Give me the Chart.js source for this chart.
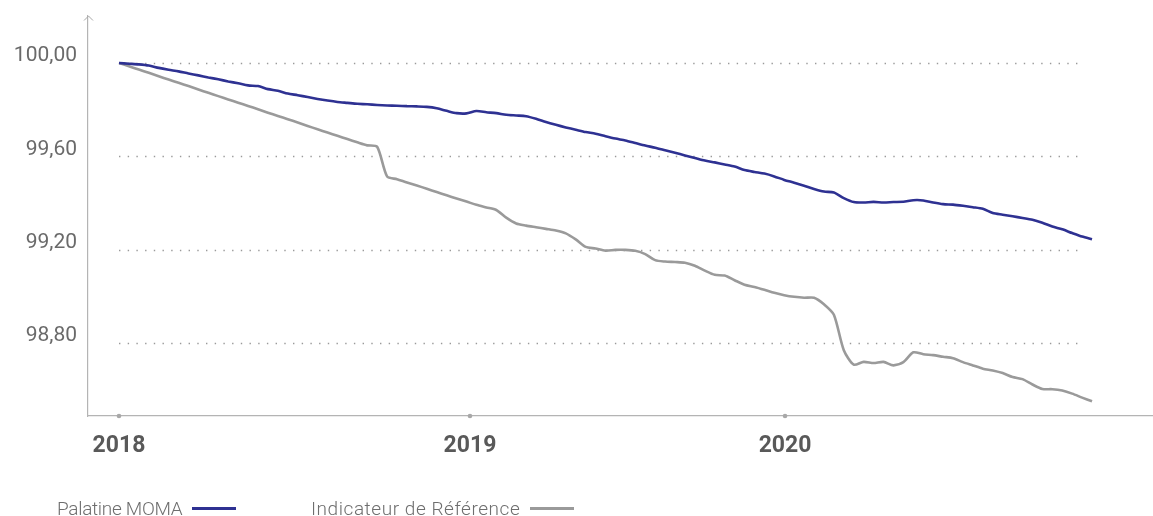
<!DOCTYPE html>
<html>
<head>
<meta charset="utf-8">
<script src="https://cdn.jsdelivr.net/npm/chart.js@4.4.1/dist/chart.umd.min.js"></script>
<style>
    html, body { margin: 0; padding: 0; background: #fff; }
    #wrap { position: relative; width: 1153px; height: 516px; }
    .legend-item {
        position: absolute;
        top: 497px;
        height: 22px;
        display: flex;
        align-items: center;
        font-family: Roboto, sans-serif;
        font-weight: 300;
        font-size: 19px;
        color: #6e6e6e;
        white-space: nowrap;
    }
    .legend-item .swatch { display: inline-block; width: 44px; height: 3px; margin-left: 10px; }
</style>
</head>
<body>
<div id="wrap">
    <canvas id="perfChart" width="1153" height="516"></canvas>
    <div class="legend-item" style="left:57px"><span style="letter-spacing:-0.3px">Palatine MOMA</span><span class="swatch" style="background:#2e3192"></span></div>
    <div class="legend-item" style="left:311px"><span style="letter-spacing:0.55px">Indicateur de Référence</span><span class="swatch" style="background:#9a9a9a"></span></div>
</div>
<script>
// valeurs, un point environ toutes les 2 semaines
const palatineMoma = [
    100.000, 99.997, 99.994, 99.989, 99.979, 99.971, 99.964, 99.955, 99.947, 99.938,
    99.930, 99.921, 99.913, 99.904, 99.901, 99.888, 99.881, 99.869, 99.862, 99.854,
    99.846, 99.839, 99.833, 99.829, 99.825, 99.823, 99.820, 99.818, 99.817, 99.815,
    99.814, 99.812, 99.806, 99.795, 99.785, 99.784, 99.794, 99.789, 99.785, 99.778,
    99.775, 99.772, 99.761, 99.747, 99.735, 99.724, 99.714, 99.704, 99.697, 99.686,
    99.676, 99.668, 99.657, 99.646, 99.637, 99.626, 99.615, 99.604, 99.593, 99.582,
    99.574, 99.565, 99.556, 99.541, 99.533, 99.526, 99.514, 99.499, 99.487, 99.474,
    99.460, 99.449, 99.445, 99.421, 99.404, 99.402, 99.405, 99.402, 99.404, 99.405,
    99.412, 99.411, 99.402, 99.395, 99.393, 99.388, 99.382, 99.375, 99.357, 99.350,
    99.343, 99.336, 99.328, 99.315, 99.299, 99.287, 99.271, 99.256, 99.245
];

const indicateurReference = [
    100.000, 99.986, 99.972, 99.958, 99.943, 99.929, 99.915, 99.901, 99.886, 99.872,
    99.858, 99.844, 99.830, 99.816, 99.802, 99.787, 99.773, 99.759, 99.745, 99.730,
    99.716, 99.702, 99.688, 99.674, 99.660, 99.647, 99.641, 99.514, 99.502, 99.488,
    99.475, 99.461, 99.447, 99.433, 99.419, 99.406, 99.392, 99.381, 99.370, 99.337,
    99.312, 99.303, 99.296, 99.289, 99.282, 99.270, 99.244, 99.212, 99.205, 99.196,
    99.199, 99.199, 99.195, 99.181, 99.155, 99.149, 99.147, 99.144, 99.131, 99.110,
    99.092, 99.089, 99.069, 99.050, 99.040, 99.028, 99.015, 99.005, 98.998, 98.994,
    98.994, 98.966, 98.921, 98.769, 98.707, 98.719, 98.714, 98.719, 98.704, 98.718,
    98.760, 98.752, 98.748, 98.741, 98.735, 98.718, 98.704, 98.690, 98.682, 98.671,
    98.654, 98.645, 98.622, 98.603, 98.602, 98.596, 98.583, 98.566, 98.550
];

const yearLabels = ['2018', '2019', '2020'];
const yearPositions = [0, 35.35, 67.08];
const yTickValues = [100.0, 99.6, 99.2, 98.8];

const GRID_END = 97;

function toPoints(values) {
    return values.map((v, i) => ({ x: i, y: v }));
}

const axisDecorations = {
    id: 'axisDecorations',
    beforeDatasetsDraw(chart) {
        const ctx = chart.ctx;
        const x = chart.scales.x;
        const y = chart.scales.y;
        const x0 = x.getPixelForValue(0);
        const x1 = x.getPixelForValue(GRID_END);

        ctx.save();
        ctx.strokeStyle = '#9a9a9a';
        ctx.lineWidth = 1.4;
        ctx.setLineDash([1.4, 7.3]);
        yTickValues.forEach(v => {
            const py = Math.round(y.getPixelForValue(v)) + 0.5;
            ctx.beginPath();
            ctx.moveTo(x0, py);
            ctx.lineTo(x1, py);
            ctx.stroke();
        });
        ctx.restore();
    },
    afterDraw(chart) {
        const ctx = chart.ctx;
        const area = chart.chartArea;
        const x = chart.scales.x;

        ctx.save();
        // flèche en haut de l'axe vertical
        ctx.strokeStyle = '#a8a8a8';
        ctx.lineWidth = 1;
        ctx.beginPath();
        ctx.moveTo(area.left - 4, area.top + 4.5);
        ctx.lineTo(area.left + 0.5, area.top);
        ctx.lineTo(area.left + 5, area.top + 4.5);
        ctx.stroke();

        // petits points des années sur l'axe horizontal
        ctx.fillStyle = '#a8a8a8';
        yearPositions.forEach(p => {
            ctx.beginPath();
            ctx.arc(x.getPixelForValue(p), area.bottom, 2.3, 0, Math.PI * 2);
            ctx.fill();
        });
        ctx.restore();
    }
};

const chart = new Chart(document.getElementById('perfChart'), {
    type: 'line',
    data: {
        datasets: [
            {
                label: 'Palatine MOMA',
                data: toPoints(palatineMoma),
                borderColor: '#2e3192',
                borderWidth: 2.6,
                pointRadius: 0,
                tension: 0.25
            },
            {
                label: 'Indicateur de Référence',
                data: toPoints(indicateurReference),
                borderColor: '#9a9a9a',
                borderWidth: 2.6,
                pointRadius: 0,
                tension: 0.25
            }
        ]
    },
    options: {
        responsive: false,
        animation: false,
        layout: {
            autoPadding: false,
            padding: { top: 16, right: 1, left: 0, bottom: 0 }
        },
        plugins: {
            legend: { display: false },
            tooltip: { enabled: false }
        },
        scales: {
            x: {
                type: 'linear',
                min: -3.122,
                max: 104.04,
                afterBuildTicks: scale => {
                    scale.ticks = yearPositions.map(v => ({ value: v }));
                },
                afterFit: scale => {
                    scale.height = 100;
                    scale.paddingLeft = 0;
                    scale.paddingRight = 0;
                },
                ticks: {
                    autoSkip: false,
                    maxRotation: 0,
                    padding: 16,
                    color: '#595959',
                    font: { family: 'Roboto, sans-serif', size: 23, weight: 'bold' },
                    callback: (value, index) => yearLabels[index]
                },
                grid: { display: false, drawTicks: false },
                border: { display: true, color: '#b4b4b4', width: 1.2 }
            },
            y: {
                min: 98.4871,
                max: 100.2014,
                afterBuildTicks: scale => {
                    scale.ticks = yTickValues.map(v => ({ value: v }));
                },
                afterFit: scale => {
                    scale.width = 88;
                    scale.paddingTop = 0;
                    scale.paddingBottom = 0;
                },
                ticks: {
                    padding: 11,
                    labelOffset: -7,
                    color: '#6a6a6a',
                    font: { family: 'Roboto, sans-serif', size: 21 },
                    callback: value => value.toFixed(2).replace('.', ',')
                },
                grid: { display: false, drawTicks: false },
                border: { display: true, color: '#b4b4b4', width: 1.2 }
            }
        }
    },
    plugins: [axisDecorations]
});
</script>
</body>
</html>
